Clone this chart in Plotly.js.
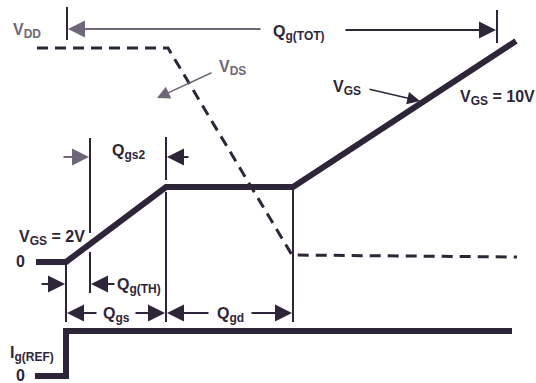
<!DOCTYPE html>
<html>
<head>
<meta charset="utf-8">
<script src="https://cdn.plot.ly/plotly-3.0.1.min.js"></script>
<style>
  html, body { margin: 0; padding: 0; background: #fff; }
  #myDiv { width: 536px; height: 383px; }
</style>
</head>
<body>
<div id="myDiv"></div>
<script>
// gate-charge waveform, drawn in a 536 x 383 unit frame (x = charge, y = level, top down)
var vgsQ = [36, 66, 166, 293, 516];
var vgsV = [262, 262, 187, 187, 41];

var vdsQ = [37, 168, 292, 517];
var vdsV = [48, 48, 255, 257];

var igQ = [35, 66, 66, 512];
var igV = [376, 376, 331, 331];

// reference markers (vertical lines), null splits segments
var markQ = [67, 67, null, 497, 497, null, 90, 90, null, 90, 90, null,
             166, 166, null, 166, 166, null, 66, 66, null, 293, 293];
var markV = [7, 40, null, 10, 43, null, 138, 233, null, 252, 293, null,
             137, 180, null, 192, 322, null, 265, 322, null, 190, 322];

var dark = '#2e2638';
var grey = '#6d6779';
var family = 'Liberation Sans, Arial, sans-serif';

var data = [
  {x: markQ, y: markV, mode: 'lines', line: {color: dark, width: 2}, hoverinfo: 'skip'},
  {x: vdsQ, y: vdsV, mode: 'lines', line: {color: dark, width: 3, dash: '11px,7px'}, hoverinfo: 'skip'},
  {x: vgsQ, y: vgsV, mode: 'lines', line: {color: dark, width: 6}, hoverinfo: 'skip'},
  {x: igQ, y: igV, mode: 'lines', line: {color: dark, width: 6}, hoverinfo: 'skip'}
];

function arrow(ax, ay, x, y, col, w) {
  return {
    x: x, y: y, ax: ax, ay: ay, xref: 'x', yref: 'y', axref: 'x', ayref: 'y',
    text: '', showarrow: true, arrowhead: 2, arrowsize: 1.7,
    arrowwidth: w || 2, arrowcolor: col || dark, standoff: 0, startstandoff: 0
  };
}

function sub(main, s) {
  return main + '<sub><span style="font-size:12px">' + s + '</span></sub>';
}

function label(x, y, txt, col) {
  return {
    x: x, y: y, xref: 'x', yref: 'y', text: '<b>' + txt + '</b>', showarrow: false,
    font: {family: family, size: 16, color: col || dark}
  };
}

var annotations = [
  arrow(262, 29, 68, 29, grey),
  arrow(344, 30, 496, 30),
  arrow(213, 72, 157, 98, grey, 1.5),
  arrow(368, 89, 420, 101, dark, 1.5),
  arrow(62, 157, 89, 157, grey),
  arrow(190, 157, 167, 157),
  arrow(40, 284, 65, 284),
  arrow(116, 284, 91, 284),
  arrow(98, 313, 67, 313),
  arrow(134, 313, 165, 313),
  arrow(210, 313, 167, 313),
  arrow(250, 313, 292, 313),

  label(27, 31, sub('V', 'DD'), grey),
  label(299, 33, sub('Q', 'g(TOT)')),
  label(232, 68, sub('V', 'DS'), grey),
  label(128, 152, sub('Q', 'gs2')),
  label(347, 88, sub('V', 'GS')),
  label(497, 98, sub('V', 'GS') + ' = 10V'),
  label(52, 238, sub('V', 'GS') + ' = 2V'),
  label(20, 261, '0'),
  label(139, 286, sub('Q', 'g(TH)')),
  label(116, 315, sub('Q', 'gs')),
  label(230, 315, sub('Q', 'gd')),
  label(32, 354, sub('I', 'g(REF)')),
  label(20, 375, '0')
];

var layout = {
  width: 536,
  height: 383,
  margin: {l: 0, r: 0, t: 0, b: 0},
  paper_bgcolor: '#fff',
  plot_bgcolor: '#fff',
  showlegend: false,
  xaxis: {range: [0, 536], visible: false, fixedrange: true},
  yaxis: {range: [383, 0], visible: false, fixedrange: true},
  annotations: annotations
};

Plotly.newPlot('myDiv', data, layout, {displayModeBar: false, staticPlot: true});
</script>
</body>
</html>
